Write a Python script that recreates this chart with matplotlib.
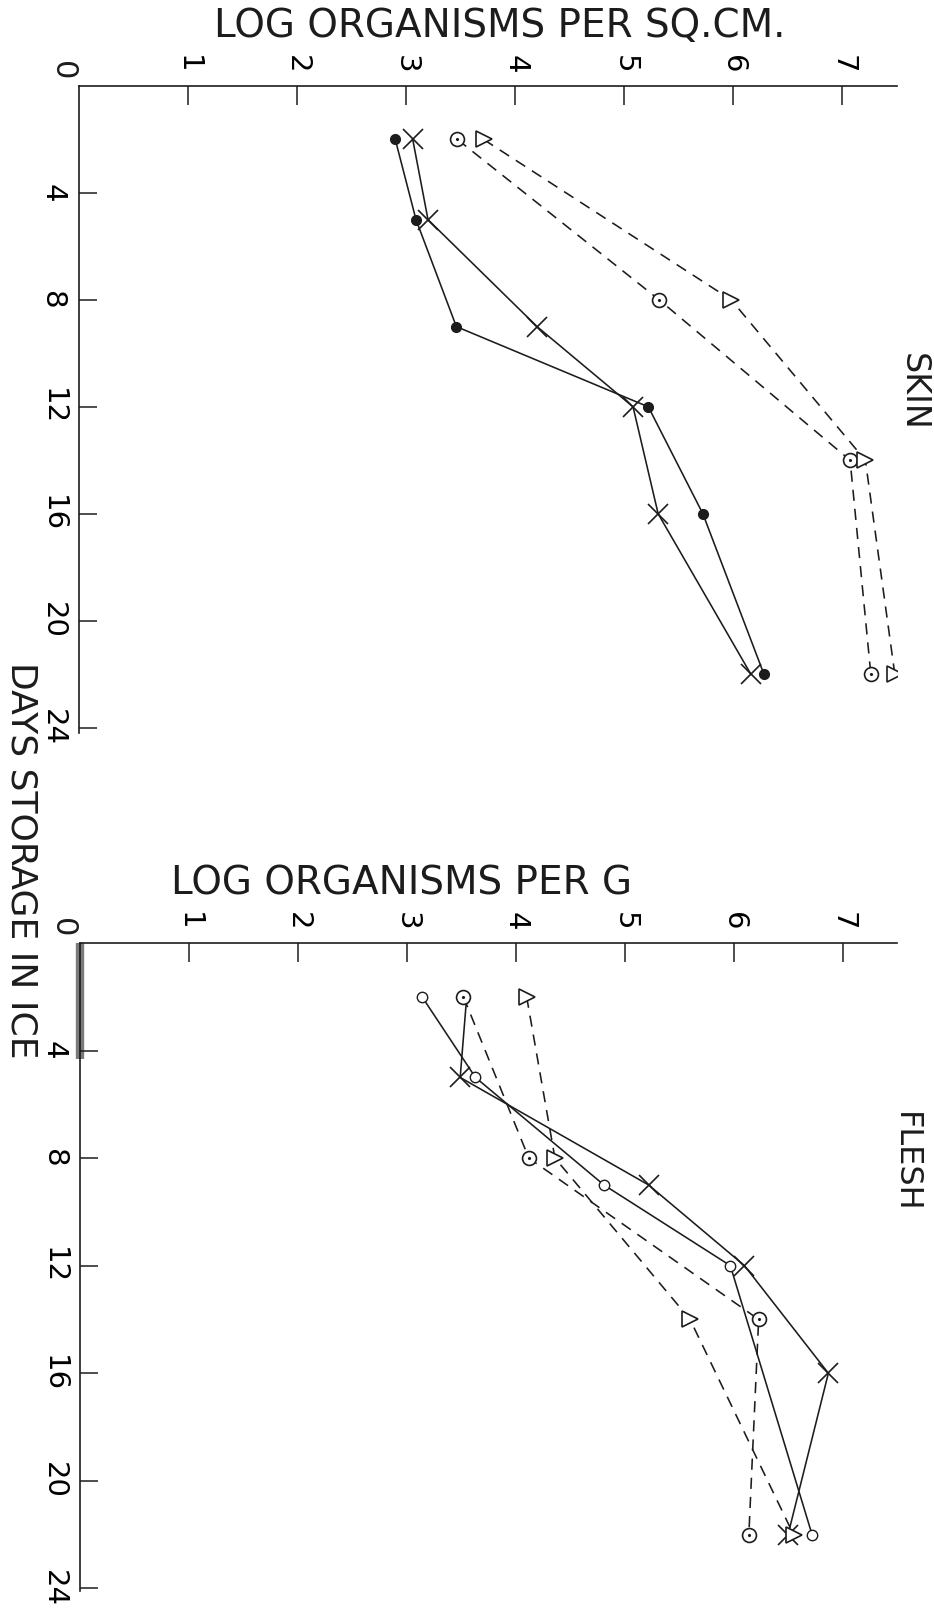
import matplotlib
matplotlib.use("Agg")
import matplotlib.pyplot as plt

# ---------------- data ----------------
value_ticks = [1, 2, 3, 4, 5, 6, 7]
day_ticks = [4, 8, 12, 16, 20, 24]

# SKIN panel (log organisms per sq.cm.)
skin_days_dot = [2, 5, 9, 12, 16, 22]
skin_dot = [2.90, 3.09, 3.46, 5.22, 5.72, 6.28]
skin_days_x = [2, 5, 9, 12, 16, 22]
skin_x = [3.06, 3.20, 4.20, 5.08, 5.31, 6.16]
skin_days_dashed = [2, 8, 14, 22]
skin_circle = [3.47, 5.32, 7.07, 7.26]
skin_tri = [3.71, 5.98, 7.21, 7.48]

# FLESH panel (log organisms per g)
flesh_days_x = [2, 5, 9, 12, 16, 22]
flesh_x = [3.55, 3.49, 5.22, 6.10, 6.87, 6.50]
flesh_days_o = [2, 5, 9, 12, 22]
flesh_o = [3.14, 3.63, 4.81, 5.97, 6.72]
flesh_days_dashed = [2, 8, 14, 22]
flesh_circle = [3.52, 4.12, 6.23, 6.14]
flesh_tri = [4.10, 4.36, 5.60, 6.55]

scan_bar_days = 4.3   # grey smudge on the flesh day axis

# ---------------- figure ----------------
W, H = 934, 1610
fig = plt.figure(figsize=(W / 100, H / 100), dpi=100)
INK = "#1c1c1c"
plt.rcParams["font.family"] = ["DejaVu Sans"]

def px_axes(left, top, right, bottom):
    return fig.add_axes([left / W, 1 - bottom / H, (right - left) / W, (bottom - top) / H])

ax_skin = px_axes(79, 86, 897, 733)
ax_flesh = px_axes(80, 943, 897, 1591)

dash = (0, (7, 5))

def style_axes(ax, dmax):
    ax.set_xlim(0, 7.5)
    ax.set_ylim(dmax, 0)
    for s in ("right", "bottom"):
        ax.spines[s].set_visible(False)
    for s in ("top", "left"):
        ax.spines[s].set_linewidth(1.2)
        ax.spines[s].set_color(INK)
    ax.xaxis.set_ticks_position("top")
    ax.set_xticks(value_ticks)
    ax.set_xticklabels([str(v) for v in value_ticks])
    ax.set_yticks(day_ticks)
    ax.set_yticklabels([str(d) for d in day_ticks])
    ax.tick_params(axis="x", direction="in", length=14, width=1.1, color=INK,
                   labeltop=True, labelbottom=False, labelrotation=-90,
                   labelsize=21, pad=9)
    ax.tick_params(axis="y", direction="in", length=13, width=1.1, color=INK,
                   labelrotation=-90, labelsize=21, pad=9)
    for lab in ax.get_yticklabels():
        lab.set_verticalalignment("center")
    ax.annotate("0", xy=(0, 0), xycoords="data", xytext=(-17, 15),
                textcoords="offset pixels", rotation=-90, ha="center",
                va="center", fontsize=22, color=INK)
    ax.set_facecolor("none")

style_axes(ax_skin, 24.2)
style_axes(ax_flesh, 24.1)

lw = 1.15
# SKIN series
ax_skin.plot(skin_dot, skin_days_dot, "-", color=INK, lw=lw, marker="o",
             ms=7, mfc=INK, mec=INK)
ax_skin.plot(skin_x, skin_days_x, "-", color=INK, lw=lw, marker="x",
             ms=15, mew=1.2)
ax_skin.plot(skin_circle, skin_days_dashed, linestyle=dash, color=INK, lw=lw,
             marker="o", ms=10, mfc="white", mec=INK, mew=1.2)
ax_skin.plot(skin_circle, skin_days_dashed, linestyle="none", marker=".",
             ms=2.5, color=INK)
ax_skin.plot(skin_tri, skin_days_dashed, linestyle=dash, color=INK, lw=lw,
             marker=">", ms=11, mfc="white", mec=INK, mew=1.2)

# FLESH series
ax_flesh.plot(flesh_x, flesh_days_x, "-", color=INK, lw=lw, marker="x",
              ms=15, mew=1.2, markevery=[1, 2, 3, 4, 5])
ax_flesh.plot(flesh_o, flesh_days_o, "-", color=INK, lw=lw, marker="o",
              ms=7.5, mfc="white", mec=INK, mew=1.0)
ax_flesh.plot(flesh_circle, flesh_days_dashed, linestyle=dash, color=INK,
              lw=lw, marker="o", ms=10, mfc="white", mec=INK, mew=1.2)
ax_flesh.plot(flesh_circle, flesh_days_dashed, linestyle="none", marker=".",
              ms=2.5, color=INK)
ax_flesh.plot(flesh_tri, flesh_days_dashed, linestyle=dash, color=INK, lw=lw,
              marker=">", ms=11, mfc="white", mec=INK, mew=1.2)

ax_flesh.vlines(0, 0, scan_bar_days, color="#7a7a7a", lw=6, zorder=1,
                clip_on=False)

# ---------------- texts ----------------
fig.text(500 / W, 1 - 37 / H, "LOG ORGANISMS PER SQ.CM.", ha="center",
         va="baseline", fontsize=28, color=INK)
fig.text(402 / W, 1 - 894 / H, "LOG ORGANISMS PER G", ha="center",
         va="baseline", fontsize=28, color=INK)
fig.text(913 / W, 1 - 392 / H, "SKIN", rotation=-90, ha="center",
         va="center", fontsize=24, color=INK)
fig.text(905 / W, 1 - 1162 / H, "FLESH", rotation=-90, ha="center",
         va="center", fontsize=23, color=INK)
fig.text(21 / W, 1 - 860 / H, "DAYS STORAGE IN ICE", rotation=-90,
         ha="center", va="center", fontsize=26, color=INK)

fig.savefig("out.png", dpi=100, facecolor="white")
